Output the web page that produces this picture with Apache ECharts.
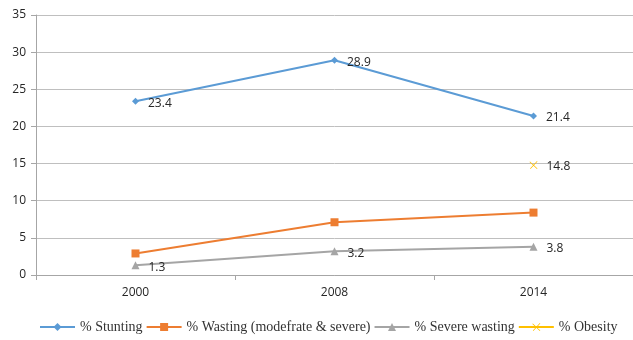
<!DOCTYPE html>
<html><head><meta charset="utf-8">
<script src="https://cdn.jsdelivr.net/npm/echarts@6/dist/echarts.min.js"></script>
<style>html,body{margin:0;padding:0;background:#fff}#c{width:633px;height:340px}</style>
</head><body><div id="c"></div>
<script>
var categories = ['2000', '2008', '2014'];
var stunting = [23.4, 28.9, 21.4];
var wasting = [2.9, 7.1, 8.4];
var severeWasting = [1.3, 3.2, 3.8];
var obesity = [null, null, 14.8];
var seriesNames = ['% Stunting', '% Wasting (modefrate & severe)', '% Severe wasting', '% Obesity'];
var yTicks = [0, 5, 10, 15, 20, 25, 30, 35];

var chart = echarts.init(document.getElementById('c'));
var lbl = {show: true, position: 'right', distance: 9, offset: [0, 2], color: '#262626', fontFamily: 'Open Sans', fontSize: 12};
var xSym = 'path://M0,0L10,10L9.3,10.7L-0.7,0.7ZM10,0L0.7,10.7L-0.0,10L9.3,-0.7Z';
chart.setOption({
  animation: false,
  grid: {left: 36, right: 0, top: 15, bottom: 65},
  legend: {
    bottom: 1, left: 34, itemGap: 3, itemWidth: 35, itemHeight: 10,
    textStyle: {fontFamily: 'Liberation Serif', fontSize: 14, color: '#333'},
    data: seriesNames
  },
  xAxis: {
    type: 'category', data: categories, boundaryGap: true,
    axisLine: {lineStyle: {color: '#a6a6a6'}},
    axisTick: {show: true, length: 5, lineStyle: {color: '#a6a6a6'}},
    axisLabel: {color: '#262626', fontFamily: 'Open Sans', fontSize: 12, margin: 12}
  },
  yAxis: {
    type: 'value', min: 0, max: 35, interval: 5,
    axisLine: {show: true, lineStyle: {color: '#a6a6a6'}},
    axisTick: {show: true, length: 5, lineStyle: {color: '#a6a6a6'}},
    splitLine: {lineStyle: {color: '#bfbfbf'}},
    axisLabel: {color: '#262626', fontFamily: 'Open Sans', fontSize: 12, margin: 10,
      formatter: function(v){ return yTicks.indexOf(v) >= 0 ? String(v) : ''; }}
  },
  series: [
    {name: seriesNames[0], type: 'line', data: stunting, color: '#5b9bd5', symbol: 'diamond', symbolSize: 7,
      lineStyle: {width: 2}, label: lbl},
    {name: seriesNames[1], type: 'line', data: wasting, color: '#ed7d31', symbol: 'rect', symbolSize: 8,
      lineStyle: {width: 2}},
    {name: seriesNames[2], type: 'line', data: severeWasting, color: '#a5a5a5', symbol: 'triangle', symbolSize: 8,
      lineStyle: {width: 2}, label: lbl},
    {name: seriesNames[3], type: 'line', data: obesity, color: '#ffc000', symbol: xSym, symbolSize: 8,
      lineStyle: {width: 2}, label: lbl}
  ]
});
</script></body></html>
